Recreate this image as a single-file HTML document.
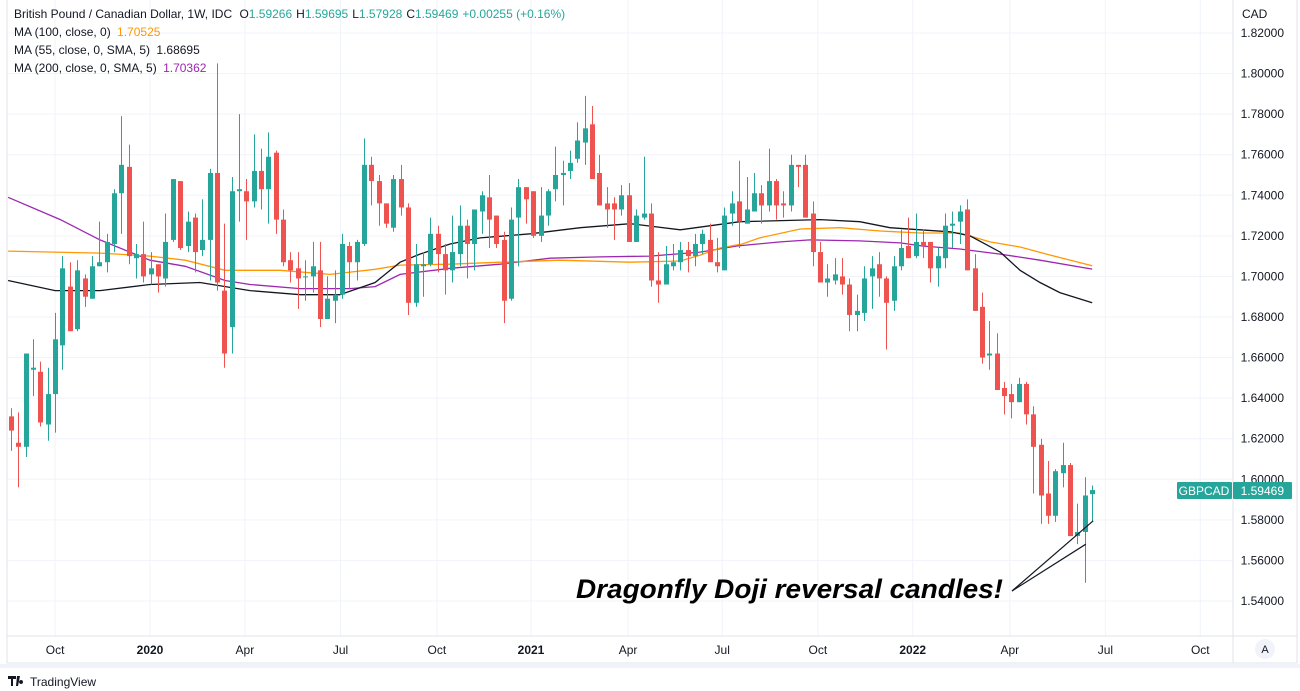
<!DOCTYPE html>
<html><head><meta charset="utf-8"><style>
html,body{margin:0;padding:0;background:#fff;}
svg{display:block;font-family:"Liberation Sans",sans-serif;}
</style></head><body>
<svg id="chart" width="1300" height="691" xmlns="http://www.w3.org/2000/svg">
<rect x="0" y="0" width="1300" height="691" fill="#fff"/>
<g id="grid"></g>
<g id="mas"></g>
<g id="candles"></g>
<g id="axes"></g>
<g id="anno"></g>
</svg>
<script>
// ---- data ----
const opens=[1.631,1.618,1.616,1.654,1.653,1.627,1.642,1.666,1.695,1.674,1.699,1.689,1.705,1.707,1.716,1.741,1.754,1.709,1.711,1.701,1.706,1.699,1.718,1.747,1.715,
1.729,1.713,1.718,1.751,1.693,1.675,1.742,1.742,1.737,1.752,1.743,1.761,1.728,1.708,1.704,1.700,1.700,1.703,1.679,1.688,1.691,1.715,1.707,1.716,1.755,
1.747,1.736,1.724,1.748,1.734,1.687,1.705,1.706,1.721,1.711,1.703,1.711,1.725,1.716,1.732,1.739,1.730,1.718,1.689,1.729,1.744,1.742,1.720,1.730,1.743,
1.750,1.752,1.758,1.766,1.775,1.751,1.736,1.736,1.733,1.740,1.717,1.729,1.731,1.698,1.696,1.705,1.707,1.713,1.710,1.716,1.718,1.707,1.703,1.731,1.737,
1.726,1.732,1.741,1.735,1.747,1.736,1.735,1.755,1.755,1.731,1.712,1.697,1.698,1.700,1.696,1.681,1.682,1.700,1.706,1.699,1.688,1.705,1.715,1.710,1.717,
1.717,1.704,1.709,1.725,1.727,1.733,1.704,1.685,1.661,1.662,1.645,1.642,1.638,1.647,1.632,1.617,1.593,1.582,1.603,1.607,1.572,1.574,1.59266];
const highs=[1.635,1.633,1.662,1.669,1.658,1.655,1.682,1.710,1.707,1.708,1.701,1.710,1.727,1.721,1.743,1.779,1.765,1.716,1.727,1.712,1.706,1.731,1.748,1.747,1.732,
1.731,1.738,1.753,1.805,1.726,1.749,1.780,1.748,1.770,1.763,1.771,1.762,1.733,1.712,1.712,1.708,1.717,1.717,1.700,1.703,1.721,1.717,1.718,1.768,1.759,
1.750,1.736,1.750,1.755,1.736,1.716,1.712,1.729,1.725,1.716,1.730,1.735,1.728,1.733,1.742,1.750,1.730,1.722,1.734,1.748,1.744,1.742,1.744,1.743,1.764,
1.757,1.762,1.776,1.789,1.784,1.760,1.744,1.739,1.745,1.746,1.733,1.759,1.736,1.712,1.715,1.716,1.717,1.717,1.721,1.723,1.726,1.719,1.734,1.742,1.757,
1.749,1.751,1.745,1.763,1.748,1.742,1.760,1.755,1.760,1.737,1.717,1.706,1.709,1.709,1.699,1.691,1.705,1.710,1.712,1.700,1.710,1.723,1.729,1.731,1.723,
1.717,1.714,1.731,1.732,1.735,1.738,1.711,1.692,1.678,1.672,1.648,1.647,1.650,1.648,1.636,1.620,1.609,1.605,1.618,1.608,1.588,1.601,1.59695];
const lows=[1.614,1.596,1.611,1.641,1.626,1.619,1.623,1.654,1.673,1.673,1.685,1.689,1.705,1.702,1.712,1.721,1.706,1.699,1.697,1.696,1.692,1.695,1.717,1.713,1.712,
1.702,1.710,1.698,1.693,1.655,1.662,1.727,1.718,1.734,1.733,1.726,1.721,1.705,1.697,1.684,1.688,1.692,1.675,1.679,1.677,1.689,1.694,1.698,1.715,1.735,
1.725,1.724,1.722,1.730,1.681,1.685,1.690,1.705,1.702,1.691,1.697,1.705,1.699,1.703,1.721,1.714,1.714,1.677,1.688,1.705,1.726,1.719,1.717,1.725,1.737,
1.735,1.748,1.756,1.755,1.748,1.735,1.724,1.718,1.730,1.717,1.717,1.728,1.695,1.687,1.696,1.703,1.703,1.702,1.705,1.711,1.707,1.702,1.703,1.725,1.714,
1.726,1.732,1.726,1.732,1.728,1.729,1.732,1.744,1.729,1.705,1.697,1.690,1.696,1.691,1.673,1.673,1.678,1.684,1.690,1.664,1.683,1.703,1.709,1.709,1.709,
1.697,1.695,1.704,1.714,1.716,1.703,1.683,1.657,1.654,1.644,1.632,1.630,1.638,1.627,1.593,1.578,1.578,1.579,1.596,1.572,1.568,1.549,1.57928];
const closes=[1.624,1.616,1.662,1.655,1.628,1.642,1.669,1.704,1.673,1.703,1.690,1.705,1.707,1.717,1.741,1.755,1.710,1.711,1.700,1.704,1.700,1.717,1.748,1.714,1.727,
1.712,1.718,1.751,1.697,1.662,1.742,1.743,1.737,1.752,1.743,1.759,1.728,1.707,1.703,1.699,1.700,1.705,1.679,1.689,1.691,1.716,1.707,1.717,1.755,1.747,
1.736,1.726,1.748,1.734,1.687,1.706,1.706,1.721,1.711,1.703,1.712,1.725,1.716,1.733,1.740,1.728,1.716,1.688,1.728,1.744,1.738,1.720,1.730,1.742,1.750,
1.751,1.756,1.767,1.773,1.748,1.735,1.733,1.733,1.740,1.717,1.730,1.731,1.698,1.696,1.706,1.707,1.713,1.710,1.716,1.721,1.707,1.705,1.730,1.736,1.727,
1.733,1.741,1.735,1.747,1.735,1.735,1.755,1.754,1.729,1.712,1.697,1.699,1.701,1.696,1.681,1.683,1.699,1.704,1.699,1.687,1.705,1.714,1.709,1.717,1.715,
1.704,1.710,1.725,1.726,1.732,1.703,1.683,1.660,1.662,1.644,1.641,1.638,1.647,1.632,1.616,1.592,1.582,1.604,1.607,1.572,1.574,1.592,1.59469];
const ma55Idx=[-0.4,6,12.1,18.9,25.7,32.5,39.3,44.7,49.5,52.9,55.6,59.7,63.8,70.6,77.4,84.2,91,99.1,110,115.4,119.5,123.6,127.7,130.4,134.5,137.2,139.9,142.6,147];
const ma55=[1.698,1.693,1.693,1.696,1.697,1.693,1.691,1.691,1.697,1.707,1.711,1.716,1.719,1.721,1.724,1.726,1.723,1.727,1.728,1.727,1.724,1.723,1.722,1.720,1.712,1.703,1.697,1.692,1.687];
const ma100Idx=[-0.4,12.1,18.9,23.7,29.1,36.6,43.4,49.5,52.9,59.7,66.5,74.6,84.2,91,93.7,96.4,99.4,101.8,107.3,112.7,118.2,123.6,129,133.1,137.2,141.3,147];
const ma100=[1.7125,1.7115,1.710,1.708,1.703,1.703,1.701,1.7035,1.7056,1.706,1.707,1.708,1.707,1.7076,1.7105,1.714,1.716,1.719,1.7234,1.724,1.7224,1.7214,1.7214,1.717,1.7145,1.7105,1.7053];
const ma200Idx=[-0.4,6.7,12.1,18.9,23.7,29.1,32.5,39.3,46.1,49.5,52.9,59.7,66.5,73.3,80.1,86.9,93.7,98.7,104.6,108.6,115.4,120.9,123.9,129,134.5,139.9,147];
const ma200=[1.739,1.728,1.718,1.708,1.705,1.698,1.696,1.694,1.694,1.695,1.701,1.704,1.706,1.709,1.7096,1.710,1.712,1.715,1.717,1.718,1.7175,1.7165,1.715,1.7135,1.711,1.708,1.7036];
const priceTicks=[1.54,1.56,1.58,1.60,1.62,1.64,1.66,1.68,1.70,1.72,1.74,1.76,1.78,1.80,1.82];
const timeLabels=["Oct","2020","Apr","Jul","Oct","2021","Apr","Jul","Oct","2022","Apr","Jul","Oct"];
const timeLabelIdx=[6,18.9,31.8,44.8,57.9,70.7,83.9,96.7,109.7,122.6,135.8,148.8,161.7];
const boldLabels=["2020","2021","2022"];

// ---- axes ----
const NS="http://www.w3.org/2000/svg";
function yS(p){return 33+(1.82-p)/0.02*40.57;}
function xS(i){return 11+i*7.355;}
function el(tag,attrs,parent){const e=document.createElementNS(NS,tag);for(const k in attrs)e.setAttribute(k,attrs[k]);parent.appendChild(e);return e;}
const grid=document.getElementById('grid'),axes=document.getElementById('axes'),cg=document.getElementById('candles'),mg=document.getElementById('mas'),an=document.getElementById('anno');

priceTicks.forEach(p=>{
  const y=yS(p);
  const g=el('line',{x1:7,x2:1233,y1:y,y2:y,stroke:'#f0f3fa','stroke-width':1},grid);
  
  
  const t=el('text',{x:1284,y:y+4,'text-anchor':'end','font-size':12,fill:'#131722'},axes);
  t.textContent=p.toFixed(5);
  
  
});
timeLabels.forEach((lab,k)=>{
  const x=xS(timeLabelIdx[k]);
  const g=el('line',{x1:x,x2:x,y1:0,y2:636,stroke:'#f0f3fa','stroke-width':1},grid);
  
  
  const t=el('text',{x:x,y:654,'text-anchor':'middle','font-size':12,fill:'#131722','font-weight':boldLabels.includes(lab)?'bold':'normal'},axes);
  t.textContent=lab;
  
  
});
// frame
[[7,0,7,663],[1233,0,1233,663],[7,636,1297,636],[7,663,1297,663],[1297,0,1297,663]].forEach(c=>{
  const l=el('line',{x1:c[0],y1:c[1],x2:c[2],y2:c[3],stroke:'#e0e3eb','stroke-width':1},axes);
  
  
});

// ---- MAs ----
function maLine(idx,vals,color,name){
  const d=idx.map((i,k)=>(k?'L':'M')+xS(i).toFixed(1)+' '+yS(vals[k]).toFixed(1)).join(' ');
  const p=el('path',{d:d,fill:'none',stroke:color,'stroke-width':1.3},mg);
  
  
}
maLine(ma200Idx,ma200,'#9c27b0','ma200-line');
maLine(ma100Idx,ma100,'#ff9800','ma100-line');
maLine(ma55Idx,ma55,'#131722','ma55-line');

// ---- candles ----
opens.forEach((o,i)=>{
  const c=closes[i],h=highs[i],l=lows[i];
  const col=c>=o?'#26a69a':'#ef5350';
  const x=Math.round(xS(i));
  const w=el('line',{x1:x+0.5,x2:x+0.5,y1:yS(h),y2:yS(l),stroke:col,'stroke-width':1},cg);
  
  
  const top=yS(Math.max(o,c)),bot=yS(Math.min(o,c));
  const b=el('rect',{x:x-2,y:top,width:5,height:Math.max(1,bot-top),fill:col},cg);
  
  
});

// ---- annotation ----
const lastX=xS(147),dojiX=xS(146);
[[1012,591,xS(147)+1,yS(1.5795)],[1012,591,xS(146)+1,yS(1.568)]].forEach(c=>{
  const l=el('line',{x1:c[0],y1:c[1],x2:c[2],y2:c[3],stroke:'#131722','stroke-width':1.2},an);
  
  
});
</script>
<svg style="position:absolute;left:0;top:0" width="1300" height="691" xmlns="http://www.w3.org/2000/svg">
<text x="576" y="598" font-size="27" font-weight="bold" font-style="italic" fill="#000" textLength="427" lengthAdjust="spacingAndGlyphs">Dragonfly Doji reversal candles!</text>
<text x="14" y="18" font-size="12" fill="#131722" font-family="Liberation Sans, sans-serif">British Pound / Canadian Dollar, 1W, IDC <tspan dx="4">O</tspan><tspan fill="#26a69a">1.59266</tspan><tspan dx="4">H</tspan><tspan fill="#26a69a">1.59695</tspan><tspan dx="4">L</tspan><tspan fill="#26a69a">1.57928</tspan><tspan dx="4">C</tspan><tspan fill="#26a69a">1.59469</tspan><tspan dx="4" fill="#26a69a">+0.00255 (+0.16%)</tspan></text>
<text x="14" y="36" font-size="12" fill="#131722" font-family="Liberation Sans, sans-serif">MA (100, close, 0) <tspan dx="3" fill="#ff9800">1.70525</tspan></text>
<text x="14" y="54" font-size="12" fill="#131722" font-family="Liberation Sans, sans-serif">MA (55, close, 0, SMA, 5) <tspan dx="3">1.68695</tspan></text>
<text x="14" y="72" font-size="12" fill="#131722" font-family="Liberation Sans, sans-serif">MA (200, close, 0, SMA, 5) <tspan dx="3" fill="#9c27b0">1.70362</tspan></text>
<text x="1242" y="18" font-size="12" fill="#131722" font-family="Liberation Sans, sans-serif">CAD</text>
<rect x="1177" y="482" width="55" height="17" rx="1" fill="#26a69a"/>
<text x="1204" y="495" font-size="12" fill="#fff" text-anchor="middle" font-family="Liberation Sans, sans-serif">GBPCAD</text>
<rect x="1233" y="482" width="59" height="17" rx="1" fill="#26a69a"/>
<text x="1284" y="495" font-size="12" fill="#fff" text-anchor="end" font-family="Liberation Sans, sans-serif">1.59469</text>
<circle cx="1265" cy="649" r="10" fill="#f0f3fa"/>
<text x="1265" y="653" font-size="11" fill="#131722" text-anchor="middle" font-family="Liberation Sans, sans-serif">A</text>
<rect x="0" y="664" width="1300" height="4" fill="#f0f3fa"/>
<g>
<path d="M8 676h8v3h-3v7h-2v-7h-3z M17 676h3l-2 10h-2z M21 680a2 2 0 1 0 0.1 0z" fill="#131722"/>
<text x="30" y="686" font-size="12" fill="#131722" font-family="Liberation Sans, sans-serif">TradingView</text>
</g>
</svg>
</body></html>
